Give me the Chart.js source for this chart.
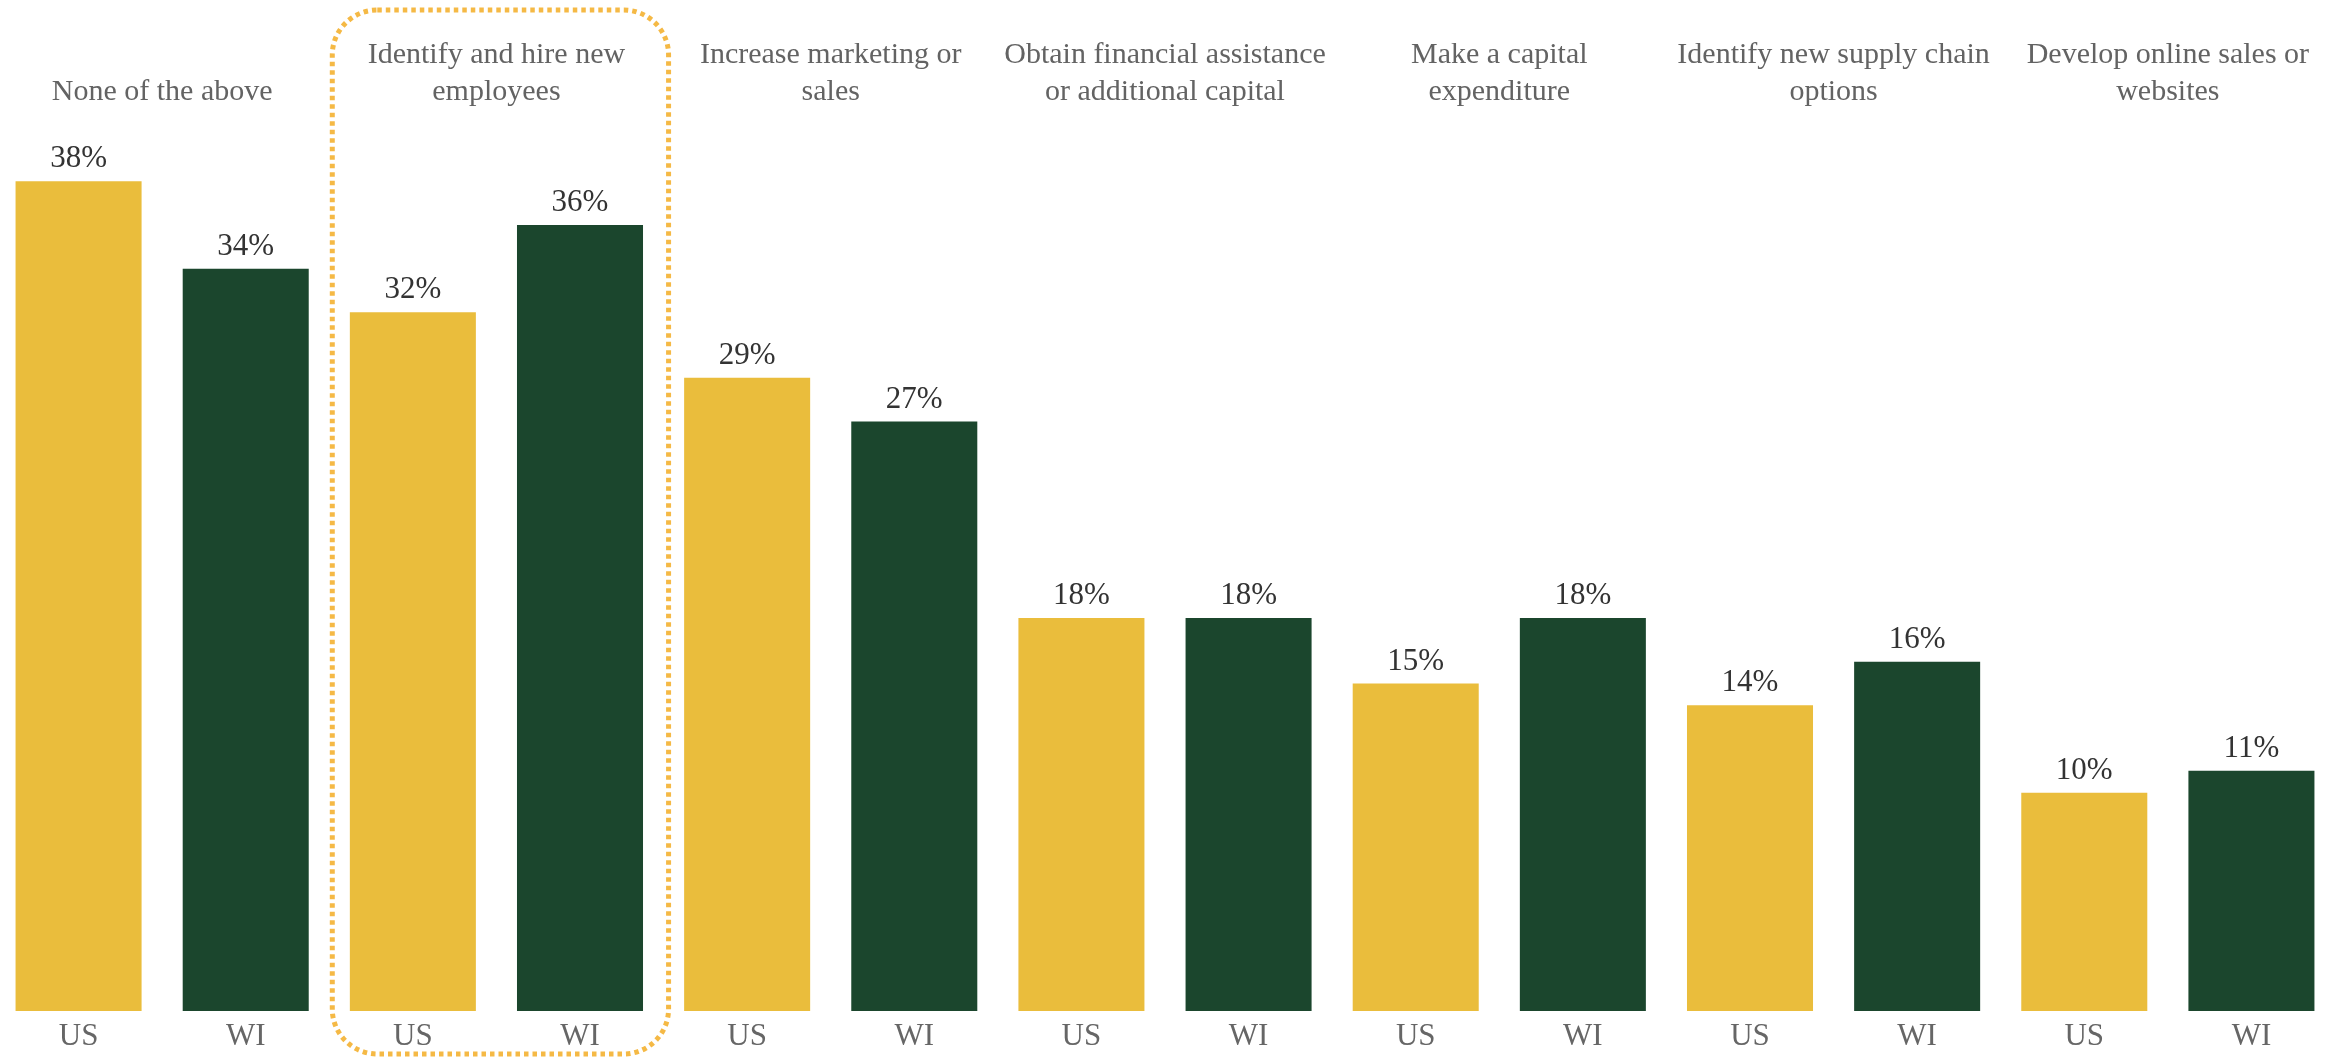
<!DOCTYPE html>
<html>
<head>
<meta charset="utf-8">
<script src="https://cdn.jsdelivr.net/npm/chart.js@4.4.1/dist/chart.umd.min.js"></script>
<style>
  html, body { margin: 0; padding: 0; background: #ffffff; overflow: hidden; }
  #wrap { width: 2344px; height: 1058px; overflow: hidden; position: relative; }
  #chart { position: absolute; left: -5px; top: 0; }
</style>
</head>
<body>
<div id="wrap"><canvas id="chart" width="2349" height="1058"></canvas></div>
<script>
// Planned business actions, share of respondents (%)
const groupTitles = [
  ['None of the above'],
  ['Identify and hire new', 'employees'],
  ['Increase marketing or', 'sales'],
  ['Obtain financial assistance', 'or additional capital'],
  ['Make a capital', 'expenditure'],
  ['Identify new supply chain', 'options'],
  ['Develop online sales or', 'websites']
];
const regions = ['US', 'WI'];
const usValues = [38, 32, 29, 18, 15, 14, 10];
const wiValues = [34, 36, 27, 18, 18, 16, 11];
const highlightedGroup = 1;

const regionColors = { US: '#EABD3C', WI: '#1B462D' };
const SERIF = '"Liberation Serif", "DejaVu Serif", serif';

// Interleave US / WI bars, one pair per action
const barLabels = [];
const barValues = [];
const barColors = [];
usValues.forEach((v, i) => {
  barLabels.push(regions[0]); barValues.push(v); barColors.push(regionColors.US);
  barLabels.push(regions[1]); barValues.push(wiValues[i]); barColors.push(regionColors.WI);
});

// Percent labels above each bar
const valueLabels = {
  id: 'valueLabels',
  afterDatasetsDraw(chart) {
    const { ctx } = chart;
    const meta = chart.getDatasetMeta(0);
    ctx.save();
    ctx.font = '31px ' + SERIF;
    ctx.fillStyle = '#333333';
    ctx.textAlign = 'center';
    ctx.textBaseline = 'alphabetic';
    meta.data.forEach((bar, i) => {
      ctx.fillText(barValues[i] + '%', bar.x, bar.y - 14);
    });
    ctx.restore();
  }
};

// Action titles centred over each US/WI pair, bottom-aligned
const groupHeaders = {
  id: 'groupHeaders',
  afterDraw(chart) {
    const { ctx } = chart;
    const meta = chart.getDatasetMeta(0);
    const lastBaseline = chart.chartArea.top + 6;
    const lineGap = 37;
    ctx.save();
    ctx.font = '30px ' + SERIF;
    ctx.fillStyle = '#636363';
    ctx.textAlign = 'center';
    ctx.textBaseline = 'alphabetic';
    groupTitles.forEach((lines, g) => {
      const cx = (meta.data[2 * g].x + meta.data[2 * g + 1].x) / 2;
      lines.forEach((line, j) => {
        const y = lastBaseline - (lines.length - 1 - j) * lineGap;
        ctx.fillText(line, cx, y);
      });
    });
    ctx.restore();
  }
};

// Dotted rounded frame around the highlighted action
const highlightFrame = {
  id: 'highlightFrame',
  afterDraw(chart) {
    const { ctx } = chart;
    const x = chart.scales.x;
    const step = x.width / barLabels.length;
    const left = x.getPixelForValue(2 * highlightedGroup) - step / 2 + 3;
    const right = x.getPixelForValue(2 * highlightedGroup + 1) + step / 2 + 5;
    const top = 10;
    const bottom = chart.height - 4;
    ctx.save();
    ctx.strokeStyle = '#F5B945';
    ctx.lineWidth = 5;
    ctx.setLineDash([4.5, 4]);
    ctx.beginPath();
    ctx.roundRect(left, top, right - left, bottom - top, 45);
    ctx.stroke();
    ctx.restore();
  }
};

new Chart(document.getElementById('chart'), {
  type: 'bar',
  data: {
    labels: barLabels,
    datasets: [{
      data: barValues,
      backgroundColor: barColors,
      borderWidth: 0,
      categoryPercentage: 1,
      barPercentage: 0.754
    }]
  },
  options: {
    responsive: false,
    devicePixelRatio: 1,
    animation: false,
    layout: { padding: { left: 0, right: 9, top: 94, bottom: 0 } },
    plugins: {
      legend: { display: false },
      tooltip: { enabled: false },
      title: { display: false }
    },
    scales: {
      x: {
        grid: { display: false, drawTicks: false },
        border: { display: false },
        ticks: {
          color: '#666666',
          font: { family: SERIF, size: 31 },
          padding: 7,
          maxRotation: 0,
          autoSkip: false
        },
        afterFit(scale) { scale.height = 47; }
      },
      y: {
        display: false,
        min: 0,
        max: 42
      }
    }
  },
  plugins: [valueLabels, groupHeaders, highlightFrame]
});
</script>
</body>
</html>
